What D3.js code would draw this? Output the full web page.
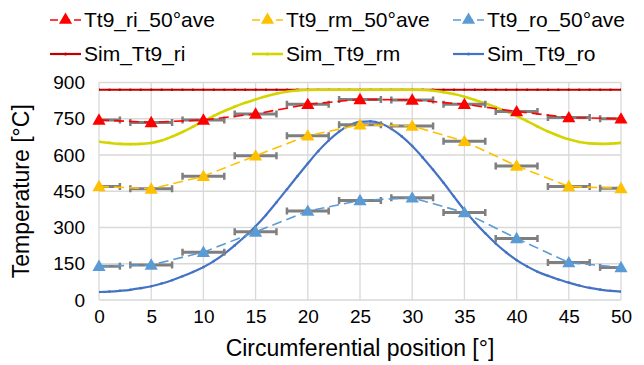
<!DOCTYPE html>
<html><head><meta charset="utf-8">
<script src="https://cdn.jsdelivr.net/npm/d3@7"></script>
<style>
body{margin:0;background:#fff;}
svg{display:block;font-family:"Liberation Sans",Arial,sans-serif;}
</style></head>
<body><svg id="c" width="644" height="365"></svg>
<script>
// ---- data ----
const avePositions = [0,5,10,15,20,25,30,35,40,45,50];
const ri50ave = [745,735,745,770,810,830,828,810,780,755,750];
const rm50ave = [470,460,512,597,680,725,720,657,555,470,462];
const ro50ave = [140,145,198,282,368,412,423,362,255,155,135];
const errHalfWidth = 2;

const simPositions = [0,1,2,3,4,5,6,7,8,9,10,11,12,13,14,15,16,17,18,19,20,21,22,23,24,25,26,27,28,29,30,31,32,33,34,35,36,37,38,39,40,41,42,43,44,45,46,47,48,49,50];
const simRi = [870,870,870,870,870,870,870,870,870,870,870,870,870,870,870,870,870,870,870,870,870,870,870,870,870,870,870,870,870,870,870,870,870,870,870,870,870,870,870,870,870,870,870,870,870,870,870,870,870,870,870];
const simRm = [655,650,646,645,646,650,660,676,695,717,740,762,782,800,816,830,843,854,862,867,869,870,870,870,870,870,870,870,870,870,870,869,866,860,852,841,828,814,798,780,762,740,718,697,680,665,654,648,646,647,650];
const simRo = [33,35,38,42,49,57,68,82,98,116,136,161,191,226,264,305,352,404,458,512,565,616,660,697,723,737,739,730,708,677,637,590,539,485,428,372,322,276,234,197,165,139,117,100,85,72,60,50,43,38,35];

const xTicks = [0,5,10,15,20,25,30,35,40,45,50];
const yTicks = [0,150,300,450,600,750,900];

const aveSeries = [
  {name:"Tt9_ri_50°ave", values:ri50ave, color:"#ff0000"},
  {name:"Tt9_rm_50°ave", values:rm50ave, color:"#ffc000"},
  {name:"Tt9_ro_50°ave", values:ro50ave, color:"#5b9bd5"}
];
const simSeries = [
  {name:"Sim_Tt9_ri", values:simRi, color:"#c00000", w:2.2},
  {name:"Sim_Tt9_rm", values:simRm, color:"#d4d400", w:2.6},
  {name:"Sim_Tt9_ro", values:simRo, color:"#4472c4", w:2.2}
];

// ---- layout ----
const svg = d3.select("#c");
const L=99, R=621, T=82.5, B=300;
const x = d3.scaleLinear().domain([0,50]).range([L,R]);
const y = d3.scaleLinear().domain([0,900]).range([B,T]);

svg.append("defs").append("clipPath").attr("id","clip")
  .append("rect").attr("x",L).attr("y",T-10).attr("width",R-L).attr("height",B-T+20);

// gridlines
const grid = svg.append("g");
grid.selectAll(".gy").data(yTicks).join("line")
  .attr("x1",L).attr("x2",R).attr("y1",d=>y(d)).attr("y2",d=>y(d))
  .attr("stroke","#d9d9d9").attr("stroke-width",1.3);
grid.selectAll(".gx").data(xTicks).join("line")
  .attr("y1",T).attr("y2",B).attr("x1",d=>x(d)).attr("x2",d=>x(d))
  .attr("stroke","#d9d9d9").attr("stroke-width",1.3);

// axes (labels only)
const yAxis = d3.axisLeft(y).tickValues(yTicks).tickSize(0).tickPadding(14);
const gy = svg.append("g").attr("transform",`translate(${L},0)`).call(yAxis);
gy.select(".domain").remove();
gy.selectAll("text").attr("font-size",19).attr("fill","#000").attr("font-family","Liberation Sans, Arial, sans-serif");

const xAxis = d3.axisBottom(x).tickValues(xTicks).tickSize(0).tickPadding(10);
const gx = svg.append("g").attr("transform",`translate(0,${B})`).call(xAxis);
gx.select(".domain").remove();
gx.selectAll("text").attr("font-size",19).attr("fill","#000").attr("font-family","Liberation Sans, Arial, sans-serif");

// axis titles
svg.append("text").attr("x",(L+R)/2).attr("y",356).attr("text-anchor","middle")
  .attr("font-size",23).text("Circumferential position [°]");
svg.append("text").attr("transform",`translate(29,${(T+B)/2}) rotate(-90)`).attr("text-anchor","middle")
  .attr("font-size",23).text("Temperature [°C]");

const plot = svg.append("g").attr("clip-path","url(#clip)");

// sim lines
const simLine = d3.line().x((d,i)=>x(simPositions[i])).y(d=>y(d)).curve(d3.curveMonotoneX);
simSeries.forEach(s=>{
  plot.append("path").datum(s.values).attr("d",simLine)
    .attr("fill","none").attr("stroke",s.color).attr("stroke-width",s.w);
  plot.append("g").selectAll("circle").data(s.values).join("circle")
    .attr("cx",(d,i)=>x(simPositions[i])).attr("cy",d=>y(d)).attr("r",1.3)
    .attr("fill",s.color);
});

// error bars, dashed lines, triangles
const tri = d3.symbol().type(d3.symbolTriangle).size(75);
aveSeries.forEach(s=>{
  const eb = plot.append("g");
  s.values.forEach((v,i)=>{
    const p = avePositions[i];
    const x0 = x(p-errHalfWidth), x1 = x(p+errHalfWidth), yy = y(v);
    eb.append("line").attr("x1",x0).attr("x2",x1).attr("y1",yy).attr("y2",yy)
      .attr("stroke","#7f7f7f").attr("stroke-width",3);
    [x0,x1].forEach(xx=>eb.append("line").attr("x1",xx).attr("x2",xx).attr("y1",yy-3.5).attr("y2",yy+3.5)
      .attr("stroke","#7f7f7f").attr("stroke-width",2.5));
  });
});
const aveLine = d3.line().x((d,i)=>x(avePositions[i])).y(d=>y(d));
aveSeries.forEach(s=>{
  plot.append("path").datum(s.values).attr("d",aveLine)
    .attr("fill","none").attr("stroke",s.color).attr("stroke-width",1.6)
    .attr("stroke-dasharray","10,5");
});
aveSeries.forEach(s=>{
  svg.append("g").selectAll("path").data(s.values).join("path")
    .attr("d",tri).attr("fill",s.color)
    .attr("transform",(d,i)=>`translate(${x(avePositions[i])},${y(d)+1})`);
});

// legend
const legCols = [50,252,453];
const leg = svg.append("g");
aveSeries.forEach((s,i)=>{
  const lx = legCols[i], ly = 20;
  leg.append("line").attr("x1",lx).attr("x2",lx+31).attr("y1",ly).attr("y2",ly)
    .attr("stroke",s.color).attr("stroke-width",1.6).attr("stroke-dasharray","8,4");
  leg.append("path").attr("d",tri).attr("fill",s.color).attr("transform",`translate(${lx+15.5},${ly})`);
  leg.append("text").attr("x",lx+34).attr("y",ly+7).attr("font-size",21).text(s.name);
});
simSeries.forEach((s,i)=>{
  const lx = legCols[i], ly = 54;
  leg.append("line").attr("x1",lx).attr("x2",lx+31).attr("y1",ly).attr("y2",ly)
    .attr("stroke",s.color).attr("stroke-width",s.w);
  leg.append("circle").attr("cx",lx+15.5).attr("cy",ly).attr("r",1.5).attr("fill",s.color);
  leg.append("text").attr("x",lx+34).attr("y",ly+7).attr("font-size",21).text(s.name);
});
</script></body></html>
